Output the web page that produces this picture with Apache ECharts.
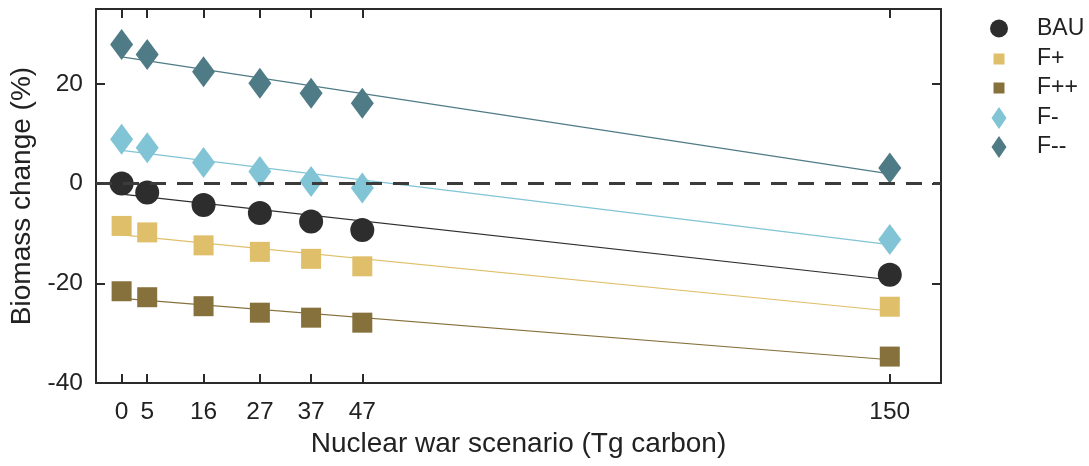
<!DOCTYPE html>
<html>
<head>
<meta charset="utf-8">
<script src="https://cdn.jsdelivr.net/npm/echarts@6/dist/echarts.min.js"></script>
<style>
  html, body { margin: 0; padding: 0; background: #fff; }
  #chart { width: 1089px; height: 466px; }
</style>
</head>
<body>
<div id="chart"></div>
<script>
// Soot injected by each nuclear war scenario (Tg carbon)
const scenarios = [0, 5, 16, 27, 37, 47, 150];

// Biomass change (%) per fishing scenario
const bau = [0, -1.8, -4.3, -5.9, -7.6, -9.3, -18.3];
const fPlus = [-8.5, -9.8, -12.4, -13.7, -15.1, -16.6, -24.7];
const fPlusPlus = [-21.6, -22.8, -24.6, -25.9, -26.9, -27.9, -34.7];
const fMinus = [8.9, 7.2, 4.2, 2.4, 0.4, -0.9, -11.2];
const fMinusMinus = [27.9, 25.9, 22.4, 20.1, 18.1, 16.1, 3.1];

const yTicks = [-40, -20, 0, 20];

const FONT = '"Liberation Sans", Arial, Helvetica, sans-serif';
const INK = '#222';

const groups = [
  { name: 'BAU', values: bau, color: '#2d2d2d', symbol: 'circle', size: 24, legendW: 18, legendH: 18, legendY: 28.5, pad: 24 },
  { name: 'F+', values: fPlus, color: '#dfbf6a', symbol: 'rect', size: 20, legendW: 11, legendH: 11, legendY: 59, pad: 27.5 },
  { name: 'F++', values: fPlusPlus, color: '#86713c', symbol: 'rect', size: 20, legendW: 11, legendH: 11, legendY: 88, pad: 27.5 },
  { name: 'F-', values: fMinus, color: '#80c4d5', symbol: 'diamond', size: [23, 31], legendW: 15, legendH: 22, legendY: 118, pad: 25.5 },
  { name: 'F--', values: fMinusMinus, color: '#4f7b86', symbol: 'diamond', size: [23, 31], legendW: 15, legendH: 22, legendY: 147, pad: 25.5 }
];

// Least-squares line through one scenario's points
function linearFit(xs, ys) {
  const n = xs.length;
  const mx = xs.reduce((a, b) => a + b, 0) / n;
  const my = ys.reduce((a, b) => a + b, 0) / n;
  let sxy = 0, sxx = 0;
  for (let i = 0; i < n; i++) {
    sxy += (xs[i] - mx) * (ys[i] - my);
    sxx += (xs[i] - mx) * (xs[i] - mx);
  }
  const slope = sxy / sxx;
  const intercept = my - slope * mx;
  const x0 = xs[0], x1 = xs[n - 1];
  return [[x0, intercept + slope * x0], [x1, intercept + slope * x1]];
}

const series = [];
groups.forEach(g => {
  series.push({
    name: g.name + ' trend',
    type: 'line',
    data: linearFit(scenarios, g.values),
    symbol: 'none',
    lineStyle: { color: g.color, width: 1.2 },
    silent: true,
    z: 2
  });
});
groups.forEach(g => {
  series.push({
    name: g.name,
    type: 'scatter',
    data: scenarios.map((x, i) => [x, g.values[i]]),
    symbol: g.symbol,
    symbolSize: g.size,
    itemStyle: { color: g.color, opacity: 1 },
    z: 3
  });
});
// Zero reference
series.push({
  name: 'zero',
  type: 'line',
  data: [],
  silent: true,
  z: 5,
  markLine: {
    silent: true,
    symbol: 'none',
    label: { show: false },
    lineStyle: { color: '#3b3b3b', width: 3, type: [16, 11] },
    data: [{ yAxis: 0 }]
  }
});

const legends = groups.map(g => ({
  data: [g.name],
  left: 999 - g.legendW / 2,
  top: g.legendY - 12,
  padding: 0,
  orient: 'vertical',
  itemWidth: g.legendW,
  itemHeight: g.legendH,
  selectedMode: false,
  textStyle: {
    fontFamily: FONT,
    fontSize: 23,
    color: INK,
    lineHeight: 24,
    padding: [0, 0, 0, g.pad]
  }
}));

const axisLine = { show: true, onZero: false, lineStyle: { color: '#2a2a2a', width: 2 } };
const tickStyle = { lineStyle: { color: '#2a2a2a', width: 2 } };

const option = {
  animation: false,
  backgroundColor: '#fff',
  grid: { left: 96, right: 148, top: 9, bottom: 83, containLabel: false },
  legend: legends,
  xAxis: [
    {
      type: 'value',
      min: -5,
      max: 160,
      position: 'bottom',
      name: 'Nuclear war scenario (Tg carbon)',
      nameLocation: 'middle',
      nameGap: 46,
      nameTextStyle: { fontFamily: FONT, fontSize: 28, color: INK },
      axisLine: axisLine,
      axisTick: Object.assign({ show: true, inside: true, length: 9, customValues: scenarios }, tickStyle),
      axisLabel: { show: true, customValues: scenarios, margin: 17, fontFamily: FONT, fontSize: 24.5, color: INK },
      splitLine: { show: false }
    },
    {
      type: 'value',
      min: -5,
      max: 160,
      position: 'top',
      axisLine: axisLine,
      axisTick: Object.assign({ show: true, inside: true, length: 9, customValues: scenarios }, tickStyle),
      axisLabel: { show: false },
      splitLine: { show: false }
    }
  ],
  yAxis: [
    {
      type: 'value',
      min: -40,
      max: 35,
      position: 'left',
      name: 'Biomass change (%)',
      nameLocation: 'middle',
      nameGap: 57,
      nameTextStyle: { fontFamily: FONT, fontSize: 28, color: INK },
      axisLine: axisLine,
      axisTick: Object.assign({ show: true, inside: true, length: 9, customValues: yTicks }, tickStyle),
      axisLabel: { show: true, customValues: yTicks, margin: 13, fontFamily: FONT, fontSize: 24.5, color: INK },
      splitLine: { show: false }
    },
    {
      type: 'value',
      min: -40,
      max: 35,
      position: 'right',
      axisLine: axisLine,
      axisTick: Object.assign({ show: true, inside: true, length: 9, customValues: yTicks }, tickStyle),
      axisLabel: { show: false },
      splitLine: { show: false }
    }
  ],
  series: series
};

const chart = echarts.init(document.getElementById('chart'), null, { renderer: 'canvas' });
chart.setOption(option);
</script>
</body>
</html>
